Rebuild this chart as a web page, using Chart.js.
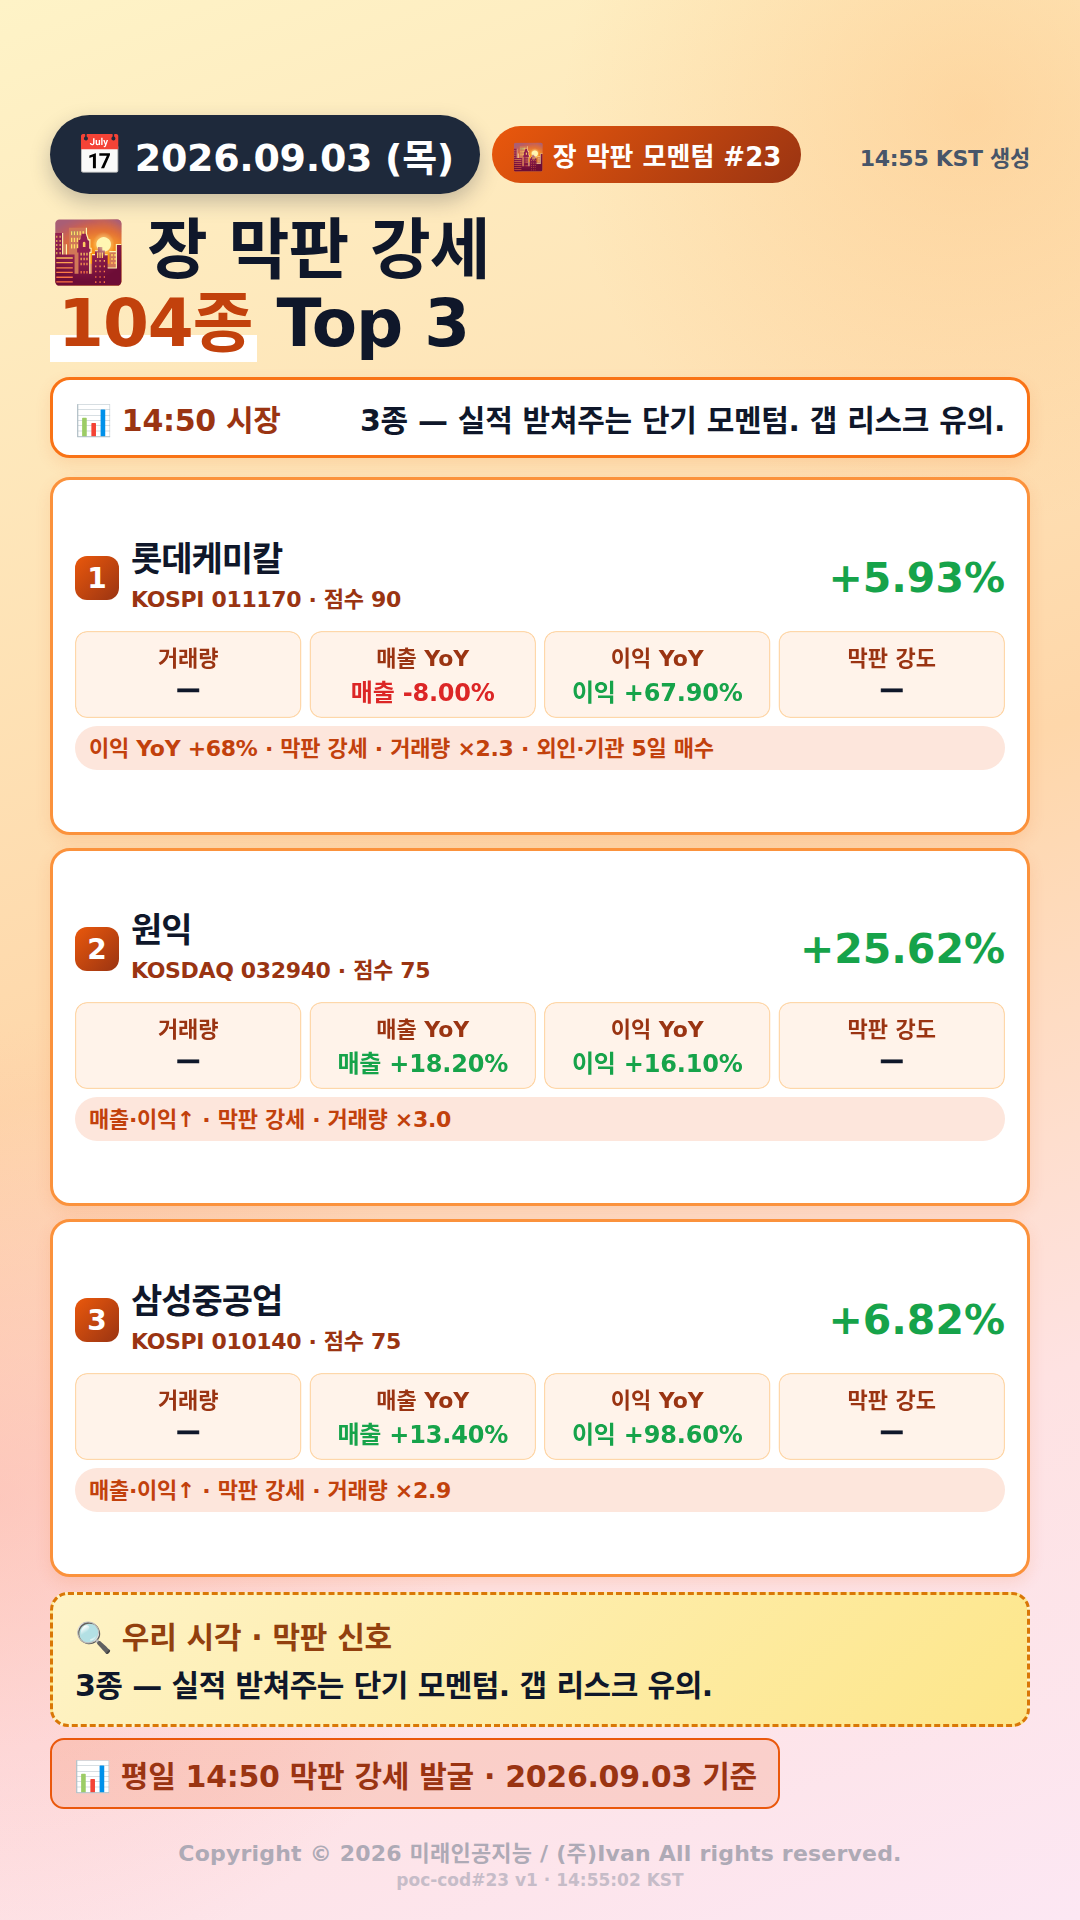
<!DOCTYPE html>
<html lang="ko"><head><meta charset="utf-8">
<script src="https://cdn.jsdelivr.net/npm/chart.js@4"></script>
<style>
*{box-sizing:border-box;margin:0;padding:0}
html,body{width:1080px;height:1920px;overflow:hidden}
body{position:relative;font-family:"DejaVu Sans","Noto Sans CJK KR",sans-serif;color:#0f172a;
background:radial-gradient(circle at 90% 6%,rgba(253,186,116,.38),transparent 20%),radial-gradient(circle at 0% 78%,rgba(252,165,165,.38),transparent 26%),linear-gradient(160deg,#fef3c7 0%,#fed7aa 48%,#fee2e2 76%,#fce7f3 100%)}
.abs{position:absolute}
#date{left:50px;top:115px;width:430px;height:79px;border-radius:40px;background:#1e293b;color:#fff;font-size:38px;font-weight:700;letter-spacing:-.3px;display:flex;align-items:center;justify-content:center;gap:12px;box-shadow:0 8px 20px rgba(30,41,59,.25);white-space:nowrap}
#series{left:492px;top:126px;width:309px;height:57px;border-radius:29px;background:linear-gradient(135deg,#ea580c,#9a3412);color:#fff;font-size:26px;font-weight:700;display:flex;align-items:center;justify-content:center;gap:4px;white-space:nowrap}
#gen{right:50px;top:140px;font-size:22px;font-weight:700;letter-spacing:-.3px;color:#475569;white-space:nowrap}
#title{left:50px;top:215px;font-size:66px;font-weight:700;letter-spacing:-1px;line-height:71px;white-space:nowrap;color:#0f172a}
#title .e{font-size:60px;margin-left:1px}
#title em{font-style:normal;color:#c2410c;padding:0 4px 0 8px;margin-right:-2px;background:linear-gradient(transparent 65%,#fff 65%)}
#bar{left:50px;top:377px;width:980px;height:81px;border:3px solid #f97316;border-radius:20px;background:#fff;display:flex;align-items:center;justify-content:space-between;padding:0 22px;font-weight:700;letter-spacing:-.3px;white-space:nowrap;box-shadow:0 6px 16px rgba(234,88,12,.12)}
#bar .l{font-size:30px;color:#9a3412}#bar .r{font-size:30px}
.card{left:50px;width:980px;height:358px;border:3px solid #fb923c;border-radius:20px;background:#fff;box-shadow:0 6px 16px rgba(234,88,12,.12)}
.rank{position:absolute;left:22px;top:76px;width:44px;height:44px;border-radius:12px;background:linear-gradient(135deg,#ea580c,#9a3412);color:#fff;font-size:28px;font-weight:800;display:flex;align-items:center;justify-content:center}
.name{position:absolute;left:78px;top:54px;font-size:34px;font-weight:700;letter-spacing:-1px;line-height:50px;white-space:nowrap}
.sub{position:absolute;left:78px;top:105px;font-size:22px;font-weight:700;letter-spacing:-.35px;line-height:30px;color:#9a3412;white-space:nowrap}
.chg{position:absolute;right:22px;top:71px;font-size:41px;font-weight:700;line-height:54px;color:#16a34a}
canvas{position:absolute;left:18px;top:150px}
.cell{position:absolute;top:151px;width:226.5px;height:87px;text-align:center;font-weight:700}
.cell .k{position:absolute;left:0;right:0;top:12px;font-size:22px;line-height:32px;color:#9a3412}
.cell .v{position:absolute;left:0;right:0;top:44px;font-size:24px;line-height:36px;letter-spacing:-.2px;white-space:nowrap}
.cell .v.dash{top:40px;-webkit-text-stroke:.5px #0f172a}
.tag{position:absolute;left:22px;top:246px;width:930px;height:44px;border-radius:22px;background:#fde6dc;color:#c2410c;font-size:22px;font-weight:700;letter-spacing:-.3px;line-height:46px;padding-left:14px;white-space:nowrap}
#note{left:50px;top:1592px;width:980px;height:135px;border:3px dashed #d97706;border-radius:18px;background:linear-gradient(135deg,#fef3c7,#fde68a);letter-spacing:-.3px}
#note .a{position:absolute;left:22px;top:22px;font-size:30px;font-weight:700;line-height:42px;color:#92400e;white-space:nowrap}
#note .b{position:absolute;left:22px;top:71px;font-size:30px;font-weight:700;letter-spacing:-.55px;line-height:40px;white-space:nowrap}
#basis{left:50px;top:1738px;width:730px;height:71px;border:2px solid #ea580c;border-radius:14px;background:rgba(234,88,12,.14);display:flex;align-items:center;padding-left:22px;font-size:30px;font-weight:700;letter-spacing:-.3px;color:#9a3412;white-space:nowrap}
#copy{left:0;width:1080px;top:1839px;text-align:center;font-size:22px;font-weight:700;letter-spacing:.2px;line-height:30px;color:#aeaab6}
#poc{left:0;width:1080px;top:1868px;text-align:center;font-size:17px;font-weight:700;line-height:24px;color:#c6bcc8}
</style></head><body>
<div id="date" class="abs">📅 <span id="dateT"></span></div>
<div id="series" class="abs"></div>
<div id="gen" class="abs"></div>
<div id="title" class="abs"><span class="e">🌇</span> 장 막판 강세<br><em>104종</em> Top 3</div>
<div id="bar" class="abs"><span class="l">📊 14:50 시장</span><span class="r" id="barR"></span></div>
<div id="cards"></div>
<div id="note" class="abs"><div class="a">🔍 우리 시각 · 막판 신호</div><div class="b" id="noteB"></div></div>
<div id="basis" class="abs"></div>
<div id="copy" class="abs">Copyright © 2026 미래인공지능 / (주)Ivan All rights reserved.</div>
<div id="poc" class="abs">poc-cod#23 v1 · 14:55:02 KST</div>
<script>
const metricLabels=["거래량","매출 YoY","이익 YoY","막판 강도"];
const stockNames=["롯데케미칼","원익","삼성중공업"];
const stockCodes=["KOSPI 011170","KOSDAQ 032940","KOSPI 010140"];
const stockScores=[90,75,75];
const priceChanges=["+5.93%","+25.62%","+6.82%"];
const salesYoY=[-8.00,18.20,13.40];
const profitYoY=[67.90,16.10,98.60];
const tags=["이익 YoY +68% · 막판 강세 · 거래량 ×2.3 · 외인·기관 5일 매수","매출·이익↑ · 막판 강세 · 거래량 ×3.0","매출·이익↑ · 막판 강세 · 거래량 ×2.9"];
const cellPresence=[1,1,1,1];
const cardTops=[477,848,1219];
const summary="3종 — 실적 받쳐주는 단기 모멘텀. 갭 리스크 유의.";
document.getElementById('dateT').textContent="2026.09.03 (목)";
document.getElementById('series').textContent="🌇 장 막판 모멘텀 #23";
document.getElementById('gen').textContent="14:55 KST 생성";
document.getElementById('barR').textContent=summary;
document.getElementById('noteB').textContent=summary;
document.getElementById('basis').textContent="📊 평일 14:50 막판 강세 발굴 · 2026.09.03 기준";
const fmt=(k,v)=>k+" "+(v>=0?"+":"")+v.toFixed(2)+"%";
const root=document.getElementById('cards');
stockNames.forEach((n,i)=>{
 const c=document.createElement('div');c.className='card abs';c.style.top=cardTops[i]+'px';
 const vals=["—",fmt("매출",salesYoY[i]),fmt("이익",profitYoY[i]),"—"];
 const cols=[null,salesYoY[i],profitYoY[i],null].map(v=>v===null?"#0f172a":v>=0?"#16a34a":"#dc2626");
 c.innerHTML=`<div class="rank">${i+1}</div><div class="name">${n}</div><div class="sub">${stockCodes[i]} · 점수 ${stockScores[i]}</div><div class="chg">${priceChanges[i]}</div><canvas width="938" height="89"></canvas>`+
 metricLabels.map((k,j)=>`<div class="cell" style="left:${22+j*234.5}px"><div class="k">${k}</div><div class="v${vals[j]==="—"?" dash":""}" style="color:${cols[j]}">${vals[j]}</div></div>`).join('')+
 `<div class="tag">${tags[i]}</div>`;
 root.appendChild(c);
 new Chart(c.querySelector('canvas'),{type:'bar',data:{labels:metricLabels,datasets:[{data:cellPresence,backgroundColor:'#fff3ea',borderColor:'#fed7aa',borderWidth:1.5,borderRadius:12,borderSkipped:false,barPercentage:.9659,categoryPercentage:1}]},
 options:{responsive:false,animation:false,devicePixelRatio:1,layout:{padding:{top:1,bottom:1}},plugins:{legend:{display:false},tooltip:{enabled:false}},scales:{x:{display:false},y:{display:false,min:0,max:1}}}});
});
</script></body></html>
